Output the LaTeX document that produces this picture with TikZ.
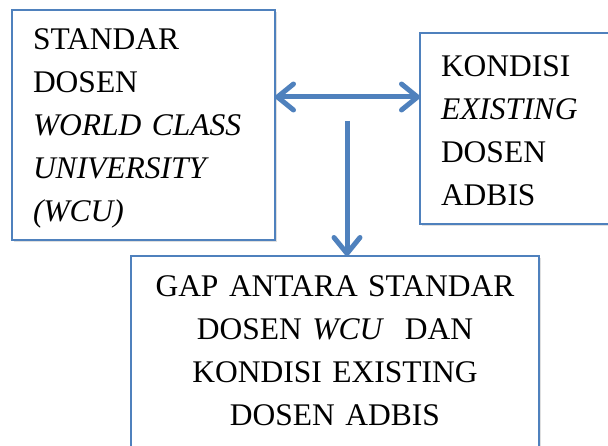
\documentclass[tikz,border=0pt]{standalone}
\usepackage{fontspec}
\setmainfont{Liberation Serif}
\usetikzlibrary{arrows.meta,shadows}
\definecolor{boxblue}{RGB}{79,129,189}

\begin{document}
\begin{tikzpicture}[x=1pt, y=-1pt,
  box/.style={draw=boxblue, line width=2pt, fill=white, outer sep=0pt,
    inner xsep=21pt, inner ysep=20pt,
    drop shadow={shadow xshift=2pt, shadow yshift=-2pt, opacity=0.25},
    font=\fontsize{31.5}{43}\selectfont},
  link/.style={draw=boxblue, line width=5pt}]
% Set the page size
\useasboundingbox (0,0) rectangle (608,446);
\clip (0,0) rectangle (608,446);

% Draw the three boxes
\node[box, anchor=north west, text width=221pt, minimum height=230pt, inner ysep=5pt, align=left, text depth=172pt] (wcu) at (12,10)
  {STANDAR\\DOSEN\\\textit{WORLD CLASS}\\\textit{UNIVERSITY}\\\textit{(WCU)}};
\node[box, anchor=north west, text width=200pt, minimum height=191pt, inner ysep=5pt, align=left, text height=24.5pt] (kondisi) at (420,33)
  {KONDISI\\\textit{EXISTING}\\DOSEN\\ADBIS};
\node[box, anchor=north, text width=366pt, align=center, text depth=189pt] (gap) at (335,256)
  {GAP ANTARA STANDAR\\DOSEN \textit{WCU}\ \ DAN\\KONDISI EXISTING\\DOSEN ADBIS};

% Draw the arrows
\coordinate (split) at (347,121);
\draw[link, {Straight Barb[round,length=16pt,width=26pt]}-{Straight Barb[round,length=16pt,width=26pt]}] (wcu.east |- 0,97) -- (kondisi.west |- 0,97);
\draw[link, -{Straight Barb[round,length=16pt,width=26pt]}] (split) -- (gap.north -| split);
\end{tikzpicture}
\end{document}
